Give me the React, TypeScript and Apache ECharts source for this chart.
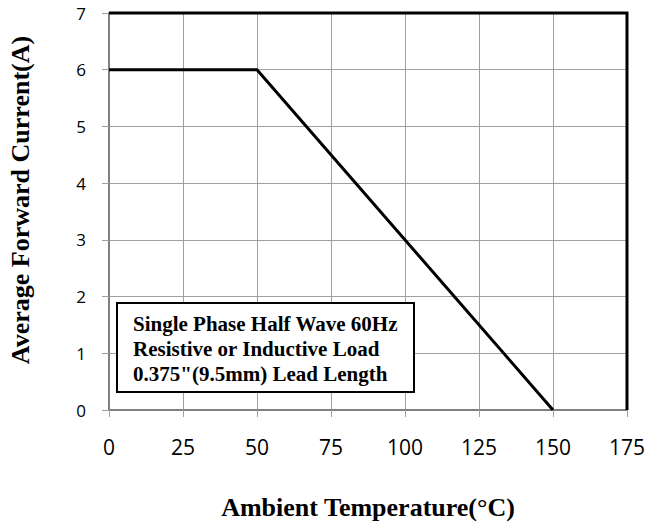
import React, { useEffect, useRef } from "react";
import * as echarts from "echarts";

const temperatures = [0, 50, 150];
const currents = [6, 6, 0];
const xTicks = [0, 25, 50, 75, 100, 125, 150, 175];
const yTicks = [0, 1, 2, 3, 4, 5, 6, 7];
const noteLines = [
  "Single Phase Half Wave 60Hz",
  "Resistive or Inductive Load",
  '0.375"(9.5mm) Lead Length',
];
const xTitle = "Ambient Temperature(°C)";
const yTitle = "Average Forward Current(A)";

export default function App() {
  const ref = useRef<HTMLDivElement>(null);
  useEffect(() => {
    if (!ref.current) return;
    const chart = echarts.init(ref.current, null, { renderer: "svg" });
    const gridL = 109, gridT = 13, gridW = 518, gridH = 397;
    chart.setOption({
      animation: false,
      backgroundColor: "#ffffff",
      grid: { left: gridL, top: gridT, width: gridW, height: gridH, show: false, containLabel: false, outerBoundsMode: "none" },
      xAxis: {
        type: "value",
        min: xTicks[0],
        max: xTicks[xTicks.length - 1],
        interval: 25,
        axisLine: { show: true, onZero: false, lineStyle: { color: "#808080", width: 2 } },
        axisTick: { show: true, inside: false, length: 7, lineStyle: { color: "#a0a0a0", width: 1 } },
        axisLabel: { margin: 37, fontFamily: "Open Sans", fontSize: 21, color: "#000", verticalAlign: "middle" },
        splitLine: { show: true, lineStyle: { color: "#a0a0a0", width: 1 } },
      },
      yAxis: {
        type: "value",
        min: yTicks[0],
        max: yTicks[yTicks.length - 1],
        interval: 1,
        axisLine: { show: true, onZero: false, lineStyle: { color: "#808080", width: 2 } },
        axisTick: { show: true, inside: false, length: 7, lineStyle: { color: "#a0a0a0", width: 1 } },
        axisLabel: { margin: 23, fontFamily: "Open Sans", fontSize: 17, color: "#000" },
        splitLine: { show: true, lineStyle: { color: "#a0a0a0", width: 1 } },
      },
      graphic: [
        {
          type: "polyline",
          shape: { points: [[gridL, gridT], [gridL + gridW, gridT], [gridL + gridW, gridT + gridH]] },
          style: { stroke: "#000", lineWidth: 3, fill: null },
          z: 10,
        },
        {
          type: "rect",
          shape: { x: 117, y: 303, width: 297, height: 89 },
          style: { fill: "#fff", stroke: "#000", lineWidth: 2 },
          z: 20,
        },
        ...noteLines.map((t, i) => ({
          type: "text",
          x: 133,
          y: 324 + i * 25,
          style: {
            text: t,
            fill: "#000",
            font: "bold 21px 'Liberation Serif'",
            verticalAlign: "middle",
          },
          z: 21,
        })),
        {
          type: "text",
          x: 368,
          y: 507,
          style: {
            text: xTitle,
            fill: "#000",
            font: "bold 26px 'Liberation Serif'",
            align: "center",
            verticalAlign: "middle",
          },
        },
        {
          type: "text",
          x: 20,
          y: 200,
          rotation: Math.PI / 2,
          style: {
            text: yTitle,
            fill: "#000",
            font: "bold 26px 'Liberation Serif'",
            align: "center",
            verticalAlign: "middle",
          },
        },
      ],
      series: [
        {
          type: "line",
          data: temperatures.map((x, i) => [x, currents[i]]),
          symbol: "none",
          lineStyle: { color: "#000", width: 3 },
          z: 5,
        },
      ],
    });
    return () => chart.dispose();
  }, []);
  return <div ref={ref} style={{ position: "fixed", left: 0, top: 0, width: 649, height: 527 }} />;
}
